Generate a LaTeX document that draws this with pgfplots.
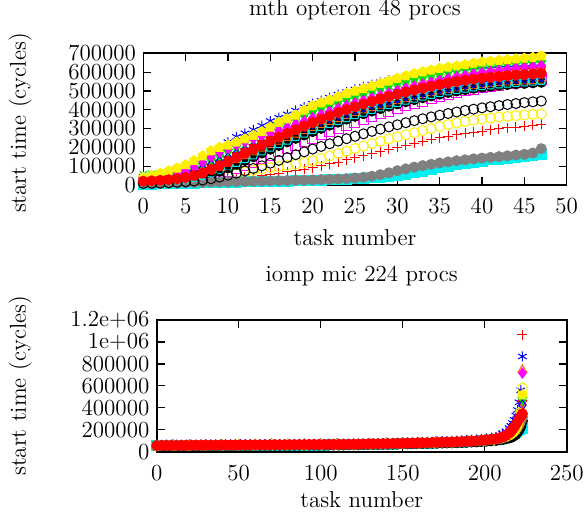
\documentclass[border=0pt]{standalone}
\usepackage{fontspec}
\usepackage{pgfplots}
\usepackage{pgfplotstable}
\pgfplotsset{compat=1.18}
\definecolor{gpred}{RGB}{255,0,0}
\definecolor{gpgreen}{RGB}{0,225,0}
\definecolor{gpblue}{RGB}{0,0,255}
\definecolor{gpmagenta}{RGB}{255,0,255}
\definecolor{gpcyan}{RGB}{0,240,240}
\definecolor{gpyellow}{RGB}{255,240,0}
\definecolor{gporange}{RGB}{255,100,0}
\definecolor{gpgray}{RGB}{128,128,128}

% start times in thousands of cycles, 48 tasks (opteron)
\pgfplotstableread{
x rp gx bs ms cs yo bf ot gf ri gi bd md cp yp bo rf
0 8 55 45 15 5 10 15 22 8 25 35 30 30 18 40 8 20
1 9 57 50 16 5 11 16 24 8 28 38 33 34 20 50 9 22
2 10 60 56 18 6 12 18 27 9 32 42 37 40 22 62 10 25
3 11 64 64 20 7 14 20 30 10 37 48 42 48 25 75 12 28
4 12 70 75 22 8 16 23 34 11 43 56 50 60 29 90 14 33
5 14 78 90 25 9 19 27 40 12 52 68 60 75 34 108 17 40
6 16 90 110 30 10 23 33 48 13 64 84 72 95 41 130 21 50
7 19 106 135 37 11 28 42 60 14 79 104 88 120 51 155 26 64
8 22 126 165 46 12 35 55 75 15 97 127 106 148 65 182 33 82
9 26 148 195 58 13 43 72 93 16 117 151 125 172 82 200 42 103
10 30 170 228 72 14 52 90 113 17 138 175 145 193 101 212 52 125
11 35 192 256 88 15 61 110 133 18 159 199 165 212 121 228 63 147
12 40 213 275 105 16 70 130 153 19 180 222 184 229 141 245 75 169
13 45 234 293 122 17 78 150 173 20 201 245 203 245 161 264 88 191
14 51 254 315 140 18 85 170 193 21 222 267 222 260 181 284 102 212
15 57 274 340 158 19 92 190 212 22 243 288 240 275 201 308 116 233
16 63 293 358 176 20 98 210 231 23 264 309 258 291 220 333 131 254
17 70 312 376 194 21 104 229 250 24 284 329 276 307 239 352 146 274
18 77 330 396 212 22 111 248 268 25 304 349 293 324 258 372 161 294
19 85 348 414 230 23 119 266 286 26 323 368 310 341 276 398 176 313
20 93 365 432 248 24 129 284 303 27 342 386 326 358 294 421 191 332
21 102 382 448 266 25 141 301 320 29 360 404 342 375 311 437 205 350
22 112 398 464 283 27 154 318 336 30 377 421 357 392 328 452 219 367
23 122 414 480 300 29 167 334 352 32 394 437 372 408 344 469 233 384
24 133 429 494 316 31 180 350 367 34 410 453 386 423 359 486 246 400
25 144 444 508 332 33 194 365 382 37 425 468 400 437 374 499 259 415
26 155 458 521 348 35 207 379 396 41 440 483 413 451 388 512 272 430
27 166 472 534 363 38 220 393 409 47 454 497 426 464 402 526 285 444
28 178 485 546 378 41 233 406 422 55 468 510 438 477 415 540 297 457
29 190 497 557 392 45 245 419 434 65 481 523 450 490 427 553 309 470
30 201 509 568 406 50 256 431 446 76 494 535 461 503 439 567 320 482
31 212 520 578 420 56 267 443 457 86 506 547 472 515 451 580 331 494
32 222 531 587 433 64 278 454 468 95 518 558 482 526 462 592 342 505
33 232 541 595 446 73 289 464 478 103 529 568 492 537 472 602 352 515
34 242 551 602 458 82 300 474 488 110 539 578 501 547 482 611 362 525
35 251 560 609 470 91 311 483 497 117 549 587 510 557 491 620 371 534
36 260 568 615 481 99 321 492 505 123 558 596 518 566 500 627 380 542
37 268 576 620 491 107 330 500 513 129 566 604 526 575 508 633 388 550
38 275 583 625 500 114 338 507 520 134 574 611 533 583 515 640 396 557
39 281 590 629 508 121 345 514 526 139 581 618 540 591 522 648 403 563
40 287 596 633 516 127 351 520 532 143 587 624 546 598 528 654 410 568
41 293 601 636 523 133 356 525 537 147 593 629 551 605 533 658 416 573
42 298 606 639 530 138 361 530 541 151 598 634 556 611 538 662 422 577
43 303 610 641 537 143 365 534 545 155 602 638 560 617 542 666 428 581
44 308 614 643 543 148 369 537 548 159 606 641 564 622 546 670 433 584
45 313 617 645 549 152 372 540 551 163 609 644 567 627 549 674 438 587
46 318 620 647 555 156 375 543 553 170 612 646 570 631 552 678 442 590
47 323 622 649 561 160 378 546 555 193 615 648 573 636 556 687 446 594
}\opteron

% mic, main band (thousands of cycles)
\pgfplotstableread{
x rf bs bk gr cy
0 57 63 51 55 52
3 57 63 51 55 52
6 58 64 52 56 53
9 58 64 52 56 53
12 58 64 52 56 53
15 58 64 52 56 53
18 59 65 53 57 54
21 59 65 53 57 54
24 59 65 53 57 54
27 60 66 54 58 55
30 60 66 54 58 55
33 60 66 54 58 55
36 60 66 54 58 55
39 61 67 55 59 56
42 61 67 55 59 56
45 61 67 55 59 56
48 61 67 55 59 56
51 62 68 56 60 57
54 62 68 56 60 57
57 62 68 56 60 57
60 63 69 57 61 58
63 63 69 57 61 58
66 63 69 57 61 58
69 63 69 57 61 58
72 64 70 58 62 59
75 64 70 58 62 59
78 64 70 58 62 59
81 64 70 58 62 59
84 65 71 59 63 60
87 65 71 59 63 60
90 65 71 59 63 60
93 66 72 60 64 61
96 66 72 60 64 61
99 66 72 60 64 61
102 66 72 60 64 61
105 67 73 61 65 62
108 67 73 61 65 62
111 67 73 61 65 62
114 67 73 61 65 62
117 68 74 62 66 63
120 68 74 62 66 63
123 69 75 63 67 64
126 70 76 64 68 65
129 71 77 65 69 66
132 72 78 66 70 67
135 72 78 66 70 67
138 73 79 67 71 68
141 74 80 68 72 69
144 75 81 69 73 70
147 76 82 70 74 71
150 77 83 71 75 72
153 78 85 71 76 73
156 79 86 72 77 74
159 80 87 73 78 75
162 81 89 74 79 76
165 82 90 75 80 77
168 84 92 77 82 79
171 85 94 78 83 80
174 87 96 79 85 82
177 88 97 80 86 83
180 89 99 81 87 84
183 91 102 82 89 86
186 93 104 84 91 88
189 95 107 85 93 90
192 98 110 88 96 93
195 100 113 89 98 95
198 104 117 93 102 99
201 108 122 96 106 103
204 113 129 99 111 108
207 118 136 103 116 113
209 125 150 108 118 112
211 135 165 112 125 118
213 148 185 118 135 126
215 170 215 125 150 138
216 185 235 130 160 146
217 205 260 138 172 155
218 225 290 148 185 165
219 250 330 160 200 178
220 275 380 178 220 192
221 300 450 200 245 205
222 322 560 230 280 225
223 345 868 280 315 215
}\micband

% mic, series that leave the band at the last tasks
\pgfplotstableread{
x rp md ot yo yp gi bd ri
0 55 57 56 54 58 57 60 55
10 56 58 57 55 59 58 61 56
20 58 60 59 57 61 60 63 58
30 59 61 60 58 62 61 64 59
40 60 62 61 59 63 62 65 60
50 61 63 62 60 64 63 66 61
60 62 64 63 61 65 64 67 62
70 63 65 64 62 66 65 68 63
80 64 66 65 63 67 66 69 64
90 64 66 65 63 67 66 69 64
100 65 67 66 64 68 67 70 65
110 66 68 67 65 69 68 71 66
120 67 69 68 66 70 69 72 67
130 70 72 71 69 73 72 75 70
140 73 75 74 72 76 75 78 73
150 76 78 77 75 79 78 81 76
160 80 82 81 79 83 82 85 80
170 84 86 85 83 87 86 89 84
180 88 90 89 87 91 90 93 88
190 96 98 97 95 99 98 101 96
200 105 107 106 104 108 107 110 105
205 110 112 111 109 113 112 115 110
210 127 129 128 126 130 129 132 127
213 139 141 140 138 142 141 144 139
215 154 156 155 153 157 156 159 154
216 164 166 165 163 167 166 169 164
217 177 179 178 176 180 179 182 177
218 191 193 192 190 194 193 196 191
219 209 212 211 215 214 212 220 209
220 231 236 235 245 240 236 250 231
221 262 270 268 290 280 270 290 262
222 290 330 320 360 350 340 330 310
223 1066 716 746 579 518 472 425 445
}\micspike

\pgfplotsset{
  every axis/.append style={font=\fontsize{11.5}{13.8}\selectfont},
  gpaxis/.style={
    scale only axis, clip=false,
    axis line style={line width=0.8pt},
    tick style={black,line width=0.6pt},
    major tick length=4pt, tick align=inside, tick pos=both,
    minor tick num=0,
    /pgf/number format/assume math mode=true,
    scaled ticks=false,
    yticklabel style={inner ysep=0.5pt,inner xsep=2pt,xshift=-1.5pt},
    xticklabel style={yshift=-3pt},
    xlabel={task number}, ylabel={start time (cycles)},
  },
  gp/.style={only marks,mark size=2.5pt,line width=0.5pt},
}

\begin{document}
\begin{tikzpicture}
\useasboundingbox (0,0) rectangle (294pt,-256.5pt);

\begin{axis}[gpaxis,
  at={(71.65pt,-92.5pt)}, anchor=south west,
  width=211.7pt, height=65.85pt,
  xmin=0, xmax=50, ymin=0, ymax=700,
  xtick={0,5,...,50},
  ytick={0,100,...,700},
  yticklabels={0,100000,200000,300000,400000,500000,600000,700000},
  title={mth opteron 48 procs},
  title style={at={(axis description cs:0.5,1.24)},anchor=center},
  xlabel style={at={(axis description cs:0.5,-0.402)},anchor=center},
  ylabel style={at={(axis description cs:-0.291,0.47)},anchor=center},
]
\addplot[gp,gpred,mark=+] table[x=x,y=rp]{\opteron};
\addplot[gp,gpgreen,mark=x] table[x=x,y=gx]{\opteron};
\addplot[gp,gpblue,mark=asterisk] table[x=x,y=bs]{\opteron};
\addplot[gp,gpmagenta,mark=square] table[x=x,y=ms]{\opteron};
\addplot[gp,gpcyan,mark=square*] table[x=x,y=cs]{\opteron};
\addplot[gp,gpyellow,mark=o] table[x=x,y=yo]{\opteron};
\addplot[gp,black,mark=*] table[x=x,y=bf]{\opteron};
\addplot[gp,gporange,mark=triangle] table[x=x,y=ot]{\opteron};
\addplot[gp,gpgray,mark=*] table[x=x,y=gf]{\opteron};
\addplot[gp,gpred,mark=triangle,mark options={rotate=180}] table[x=x,y=ri]{\opteron};
\addplot[gp,gpgreen,mark=triangle*,mark options={rotate=180}] table[x=x,y=gi]{\opteron};
\addplot[gp,gpblue,mark=diamond] table[x=x,y=bd]{\opteron};
\addplot[gp,gpmagenta,mark=diamond*] table[x=x,y=md]{\opteron};
\addplot[gp,gpcyan,mark=pentagon] table[x=x,y=cp]{\opteron};
\addplot[gp,gpyellow,mark=pentagon*] table[x=x,y=yp]{\opteron};
\addplot[gp,black,mark=o] table[x=x,y=bo]{\opteron};
\addplot[gp,gpred,mark=*] table[x=x,y=rf]{\opteron};
\end{axis}

\begin{axis}[gpaxis,
  at={(78.35pt,-225.85pt)}, anchor=south west,
  width=205pt, height=65.85pt,
  xmin=0, xmax=250, ymin=0, ymax=1200,
  xtick={0,50,...,250},
  ytick={0,200,...,1200},
  yticklabels={0,200000,400000,600000,800000,1e+06,1.2e+06},
  title={iomp mic 224 procs},
  title style={at={(axis description cs:0.5,1.243)},anchor=center},
  xlabel style={at={(axis description cs:0.5,-0.364)},anchor=center},
  ylabel style={at={(axis description cs:-0.333,0.5)},anchor=center},
]
\addplot[gp,gpcyan,mark=square*] table[x=x,y=cy]{\micband};
\addplot[gp,black,mark=*] table[x=x,y=bk]{\micband};
\addplot[gp,gpgray,mark=*] table[x=x,y=gr]{\micband};
\addplot[gp,gpblue,mark=asterisk] table[x=x,y=bs]{\micband};
\addplot[gp,gpred,mark=+] table[x=x,y=rp]{\micspike};
\addplot[gp,gporange,mark=triangle] table[x=x,y=ot]{\micspike};
\addplot[gp,gpmagenta,mark=diamond*] table[x=x,y=md]{\micspike};
\addplot[gp,gpyellow,mark=o] table[x=x,y=yo]{\micspike};
\addplot[gp,gpred,mark=triangle,mark options={rotate=180}] table[x=x,y=ri]{\micspike};
\addplot[gp,gpgreen,mark=triangle*,mark options={rotate=180}] table[x=x,y=gi]{\micspike};
\addplot[gp,gpblue,mark=diamond] table[x=x,y=bd]{\micspike};
\addplot[gp,gpyellow,mark=pentagon*] table[x=x,y=yp]{\micspike};
\addplot[gp,gpred,mark=*] table[x=x,y=rf]{\micband};
\end{axis}
\end{tikzpicture}
\end{document}
